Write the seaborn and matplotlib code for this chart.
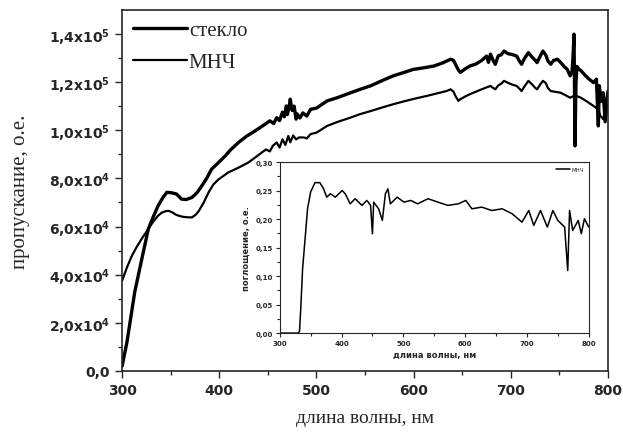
import seaborn as sns
import matplotlib.pyplot as plt
import pandas as pd

# transmission spectra
wl_glass = [300, 305, 313, 320, 327, 332, 337, 342, 346, 351, 356, 361, 366, 372, 377, 382,
            387, 392, 399, 406, 412, 420, 428, 436, 442, 447, 452, 456, 459, 462, 465, 467,
            469, 470, 472, 473, 475, 477, 479, 480, 483, 486, 490, 494, 500, 511, 522, 534,
            545, 556, 568, 579, 590, 600, 610, 621, 630, 638, 641, 643, 646, 648, 653, 658,
            664, 670, 675, 677, 679, 682, 684, 687, 690, 693, 697, 701, 706, 709, 711, 714,
            718, 722, 725, 727, 730, 733, 736, 738, 741, 744, 748, 752, 755, 758, 761, 763,
            764, 765, 766, 767, 768, 770, 772, 776, 780, 785, 788, 790, 791, 793, 795, 797,
            799, 800]
tr_glass = [2000, 12000, 32800, 46000, 59000, 64000, 68600, 72000, 74200, 74000, 73500, 71400,
            71200, 72100, 74000, 76900, 80000, 83800, 86500, 89300, 92000, 95000, 97500, 99500,
            101100, 102500, 103900, 102800, 105200, 104000, 107500, 105600, 110100, 106500,
            109800, 112900, 108200, 110000, 104600, 106800, 105100, 107200, 105900, 108700,
            109200, 112200, 113600, 115400, 117000, 118500, 120700, 122600, 124000, 125300,
            125900, 126700, 128000, 129500, 129000, 127400, 125000, 124000, 125500, 126700,
            127500, 129000, 130800, 128200, 131600, 128800, 127400, 130900, 131300, 132900,
            131800, 131500, 130800, 128600, 127400, 129800, 132200, 130300, 129100, 128100,
            130600, 132900, 131200, 128900, 127400, 129000, 129500, 127800, 126400, 125300,
            122600, 124500, 131000, 139900, 93500, 120000, 126500, 125300, 124800, 123000,
            121400, 119800, 121200, 101800, 118500, 112000, 115600, 103500, 113500, 116300]

wl_mnp = [300, 305, 310, 315, 320, 325, 329, 333, 337, 341, 345, 348, 352, 355, 358, 363,
          368, 372, 376, 379, 384, 389, 394, 399, 409, 420, 430, 437, 444, 448, 452, 455,
          459, 462, 465, 468, 471, 473, 476, 479, 482, 487, 490, 494, 500, 511, 522, 534,
          545, 556, 568, 579, 590, 602, 614, 626, 634, 638, 641, 643, 646, 648, 653, 658,
          664, 670, 675, 679, 682, 684, 687, 690, 693, 697, 701, 706, 709, 711, 714, 718,
          722, 725, 727, 730, 733, 736, 738, 741, 745, 751, 756, 761, 766, 772, 778, 785,
          788, 790, 792, 795, 797, 798, 800]
tr_mnp = [37500, 43000, 47800, 51500, 54800, 57800, 60300, 62500, 64500, 65800, 66400, 66500,
          65800, 65000, 64500, 64000, 63800, 63800, 65000, 66500, 70000, 74200, 77500, 79500,
          82400, 84500, 86600, 88700, 90800, 92000, 91200, 93500, 94900, 92800, 96200, 93900,
          97600, 95000, 97800, 96200, 97000, 97000, 96600, 98400, 99000, 101800, 103500,
          105100, 106700, 108000, 109500, 110800, 112000, 113200, 114300, 115500, 116300,
          117000, 116000, 114200, 112200, 112900, 114000, 115000, 116000, 117000, 117800,
          118400, 117500, 117000, 118600, 119300, 120500, 119700, 119000, 118400, 117200,
          116300, 118200, 120500, 119000, 117600, 117000, 118900, 120500, 119600, 117600,
          116300, 116000, 115600, 114600, 113500, 114500, 113500, 112000, 110100, 109200,
          108700, 106000, 104600, 108700, 106000, 110800]

# absorption (inset)
wl_abs = [300, 320, 330, 332, 334, 337, 341, 345, 350, 357, 365, 371, 376, 382, 390, 401,
          406, 414, 422, 433, 441, 447, 450, 452, 460, 466, 471, 475, 479, 490, 501, 512,
          523, 540, 556, 572, 589, 601, 611, 627, 643, 660, 676, 692, 703, 711, 722, 733,
          742, 750, 761, 766, 769, 774, 783, 788, 793, 800]
frac_abs = [0, 0, 0, 0.01, 0.14, 0.376, 0.55, 0.727, 0.825, 0.88, 0.88, 0.844, 0.795, 0.815,
            0.795, 0.834, 0.815, 0.756, 0.786, 0.747, 0.776, 0.747, 0.581, 0.766, 0.727,
            0.659, 0.815, 0.844, 0.756, 0.795, 0.766, 0.776, 0.756, 0.786, 0.766, 0.747,
            0.756, 0.776, 0.727, 0.737, 0.717, 0.727, 0.698, 0.649, 0.717, 0.630, 0.717,
            0.620, 0.717, 0.659, 0.620, 0.366, 0.717, 0.600, 0.659, 0.581, 0.669, 0.620]
abs_vals = [0.3 * f for f in frac_abs]

main_yticks = [0, 20000, 40000, 60000, 80000, 100000, 120000, 140000]
main_ylabels = ["0,0", "2,0x10$^4$", "4,0x10$^4$", "6,0x10$^4$", "8,0x10$^4$",
                "1,0x10$^5$", "1,2x10$^5$", "1,4x10$^5$"]
main_xticks = [300, 400, 500, 600, 700, 800]
ins_yticks = [0, 0.05, 0.10, 0.15, 0.20, 0.25, 0.30]
ins_ylabels = ["0,00", "0,05", "0,10", "0,15", "0,20", "0,25", "0,30"]

df_glass = pd.DataFrame({"wl": wl_glass, "t": tr_glass})
df_mnp = pd.DataFrame({"wl": wl_mnp, "t": tr_mnp})
df_abs = pd.DataFrame({"wl": wl_abs, "a": abs_vals})

sns.set_style("ticks")
plt.rcParams["mathtext.default"] = "bf"

fig = plt.figure(figsize=(6.23, 4.35), dpi=100)
ax = fig.add_axes([0.196, 0.145, 0.78, 0.83])

sns.lineplot(data=df_glass, x="wl", y="t", ax=ax, color="black", lw=2.4, label="стекло")
sns.lineplot(data=df_mnp, x="wl", y="t", ax=ax, color="black", lw=1.6, label="МНЧ")

ax.set_xlim(300, 800)
ax.set_ylim(0, 150000)
ax.set_xticks(main_xticks)
ax.set_xticks([350, 450, 550, 650, 750], minor=True)
ax.set_yticks(main_yticks)
ax.set_yticks([10000, 30000, 50000, 70000, 90000, 110000, 130000], minor=True)
ax.set_yticklabels(main_ylabels)
ax.tick_params(axis="both", which="major", direction="out", length=5, width=1,
               labelsize=10)
ax.tick_params(axis="both", which="minor", direction="out", length=3, width=1)
for lab in ax.get_xticklabels() + ax.get_yticklabels():
    lab.set_fontweight("bold")
for sp in ax.spines.values():
    sp.set_linewidth(1.2)
ax.set_xlabel("длина волны, нм", family="Liberation Serif", fontsize=14, labelpad=9)
ax.set_ylabel("пропускание, о.е.", family="Liberation Serif", fontsize=15, labelpad=14)

leg = ax.legend(loc="upper left", frameon=False, prop={"family": "Liberation Serif", "size": 15},
                handlelength=2.6, handletextpad=0.1, borderaxespad=0.1, labelspacing=0.6)

# inset with absorption
ins = fig.add_axes([0.449, 0.232, 0.496, 0.393])
sns.lineplot(data=df_abs, x="wl", y="a", ax=ins, color="black", lw=1.1, label="МНЧ")
ins.set_xlim(300, 800)
ins.set_ylim(0, 0.30)
ins.set_xticks(main_xticks)
ins.set_xticks([350, 450, 550, 650, 750], minor=True)
ins.set_yticks(ins_yticks)
ins.set_yticks([0.025, 0.075, 0.125, 0.175, 0.225, 0.275], minor=True)
ins.set_yticklabels(ins_ylabels)
ins.tick_params(axis="both", which="major", direction="out", length=3, width=0.8,
                labelsize=5, pad=2)
ins.tick_params(axis="both", which="minor", direction="out", length=2, width=0.8)
for lab in ins.get_xticklabels() + ins.get_yticklabels():
    lab.set_fontweight("bold")
ins.set_xlabel("длина волны, нм", fontsize=6, fontweight="bold", labelpad=3)
ins.set_ylabel("поглощение, о.е.", fontsize=6, fontweight="bold", labelpad=3)
ins.legend(loc="upper right", frameon=False, fontsize=4, handlelength=2.5, handletextpad=0.3)

fig.savefig("out.png", dpi=100)
